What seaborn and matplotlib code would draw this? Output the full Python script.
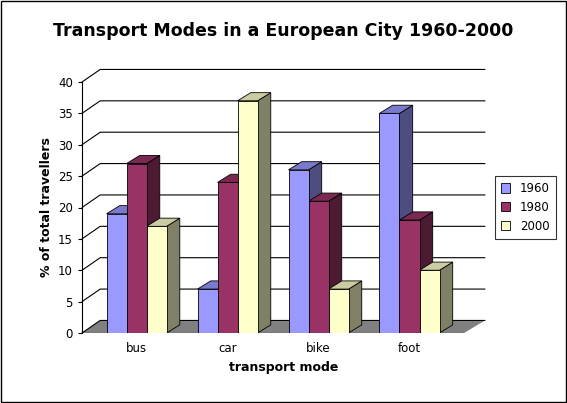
import numpy as np
import pandas as pd
import matplotlib.pyplot as plt
import seaborn as sns
from matplotlib.patches import Polygon

sns.set_style('white')
plt.rcParams['font.family'] = ['DejaVu Sans']
plt.rcParams['text.color'] = 'black'
plt.rcParams['axes.labelcolor'] = 'black'
plt.rcParams['xtick.color'] = 'black'
plt.rcParams['ytick.color'] = 'black'

modes = ['bus', 'car', 'bike', 'foot']
years = ['1960', '1980', '2000']
v1960 = [19, 7, 26, 35]
v1980 = [27, 24, 21, 18]
v2000 = [17, 37, 7, 10]

df = pd.DataFrame({
    'mode': modes * 3,
    'year': sum([[y] * 4 for y in years], []),
    'pct': v1960 + v1980 + v2000,
})

front = {'1960': '#9999FF', '1980': '#993366', '2000': '#FFFFCC'}
side = {'1960': '#4D4D80', '1980': '#4D1A33', '2000': '#808066'}
top = {'1960': '#7A7ACC', '1980': '#7A2952', '2000': '#CCCCA3'}

fig = plt.figure(figsize=(5.67, 4.03), dpi=100)
ax = fig.add_axes([82 / 567, 70 / 403, 403 / 567, 251 / 403])

# depth offsets in data units
dx, dy = 0.145, 1.3
wx, wy = 0.2, 2.0

# floor and back grid
ax.add_patch(Polygon([(-0.6, 0), (3.6, 0), (3.83, wy), (-0.4, wy)],
                     closed=True, facecolor='#808080', edgecolor='none', zorder=0, clip_on=False))
for v in range(0, 41, 5):
    ax.plot([-0.6, -0.4, 3.83], [v, v + wy, v + wy], color='black', lw=0.8, zorder=0.5, clip_on=False)

sns.barplot(data=df, x='mode', y='pct', hue='year', order=modes, hue_order=years,
            palette=front, saturation=1, width=0.66, edgecolor='black', linewidth=0.6,
            ax=ax, zorder=3)

for cont, y in zip(ax.containers, years):
    for p in cont:
        x0, w, h = p.get_x(), p.get_width(), p.get_height()
        ax.add_patch(Polygon([(x0 + w, 0), (x0 + w + dx, dy), (x0 + w + dx, h + dy), (x0 + w, h)],
                             closed=True, facecolor=side[y], edgecolor='black', lw=0.6, zorder=2.9))
        ax.add_patch(Polygon([(x0, h), (x0 + dx, h + dy), (x0 + w + dx, h + dy), (x0 + w, h)],
                             closed=True, facecolor=top[y], edgecolor='black', lw=0.6, zorder=2.9))

ax.set_xlim(-0.6, 3.83)
ax.set_ylim(0, 40)
ax.set_yticks(range(0, 41, 5))
ax.tick_params(axis='both', labelsize=8.5, length=3, left=True, bottom=False)
for s in ['top', 'right', 'bottom']:
    ax.spines[s].set_visible(False)
ax.spines['left'].set_linewidth(0.8)
ax.spines['left'].set_color('black')
ax.axhline(0, xmin=0, xmax=4.2 / 4.43, color='black', lw=0.8)

ax.set_xlabel('transport mode', fontsize=9, fontweight='bold')
ax.set_ylabel('% of total travellers', fontsize=9, fontweight='bold')
fig.suptitle('Transport Modes in a European City 1960-2000', fontsize=12.5,
             fontweight='bold', y=0.945)

leg = ax.legend(loc='center left', bbox_to_anchor=(1.01, 0.5), fontsize=8.5,
                frameon=True, fancybox=False, edgecolor='black', handlelength=0.8,
                handleheight=0.8, borderpad=0.5)
leg.get_frame().set_linewidth(0.8)

fig.patches.append(plt.Rectangle((0.002, 0.002), 0.996, 0.996, transform=fig.transFigure,
                                 fill=False, edgecolor='black', lw=1))

plt.savefig('out.png', dpi=100)
